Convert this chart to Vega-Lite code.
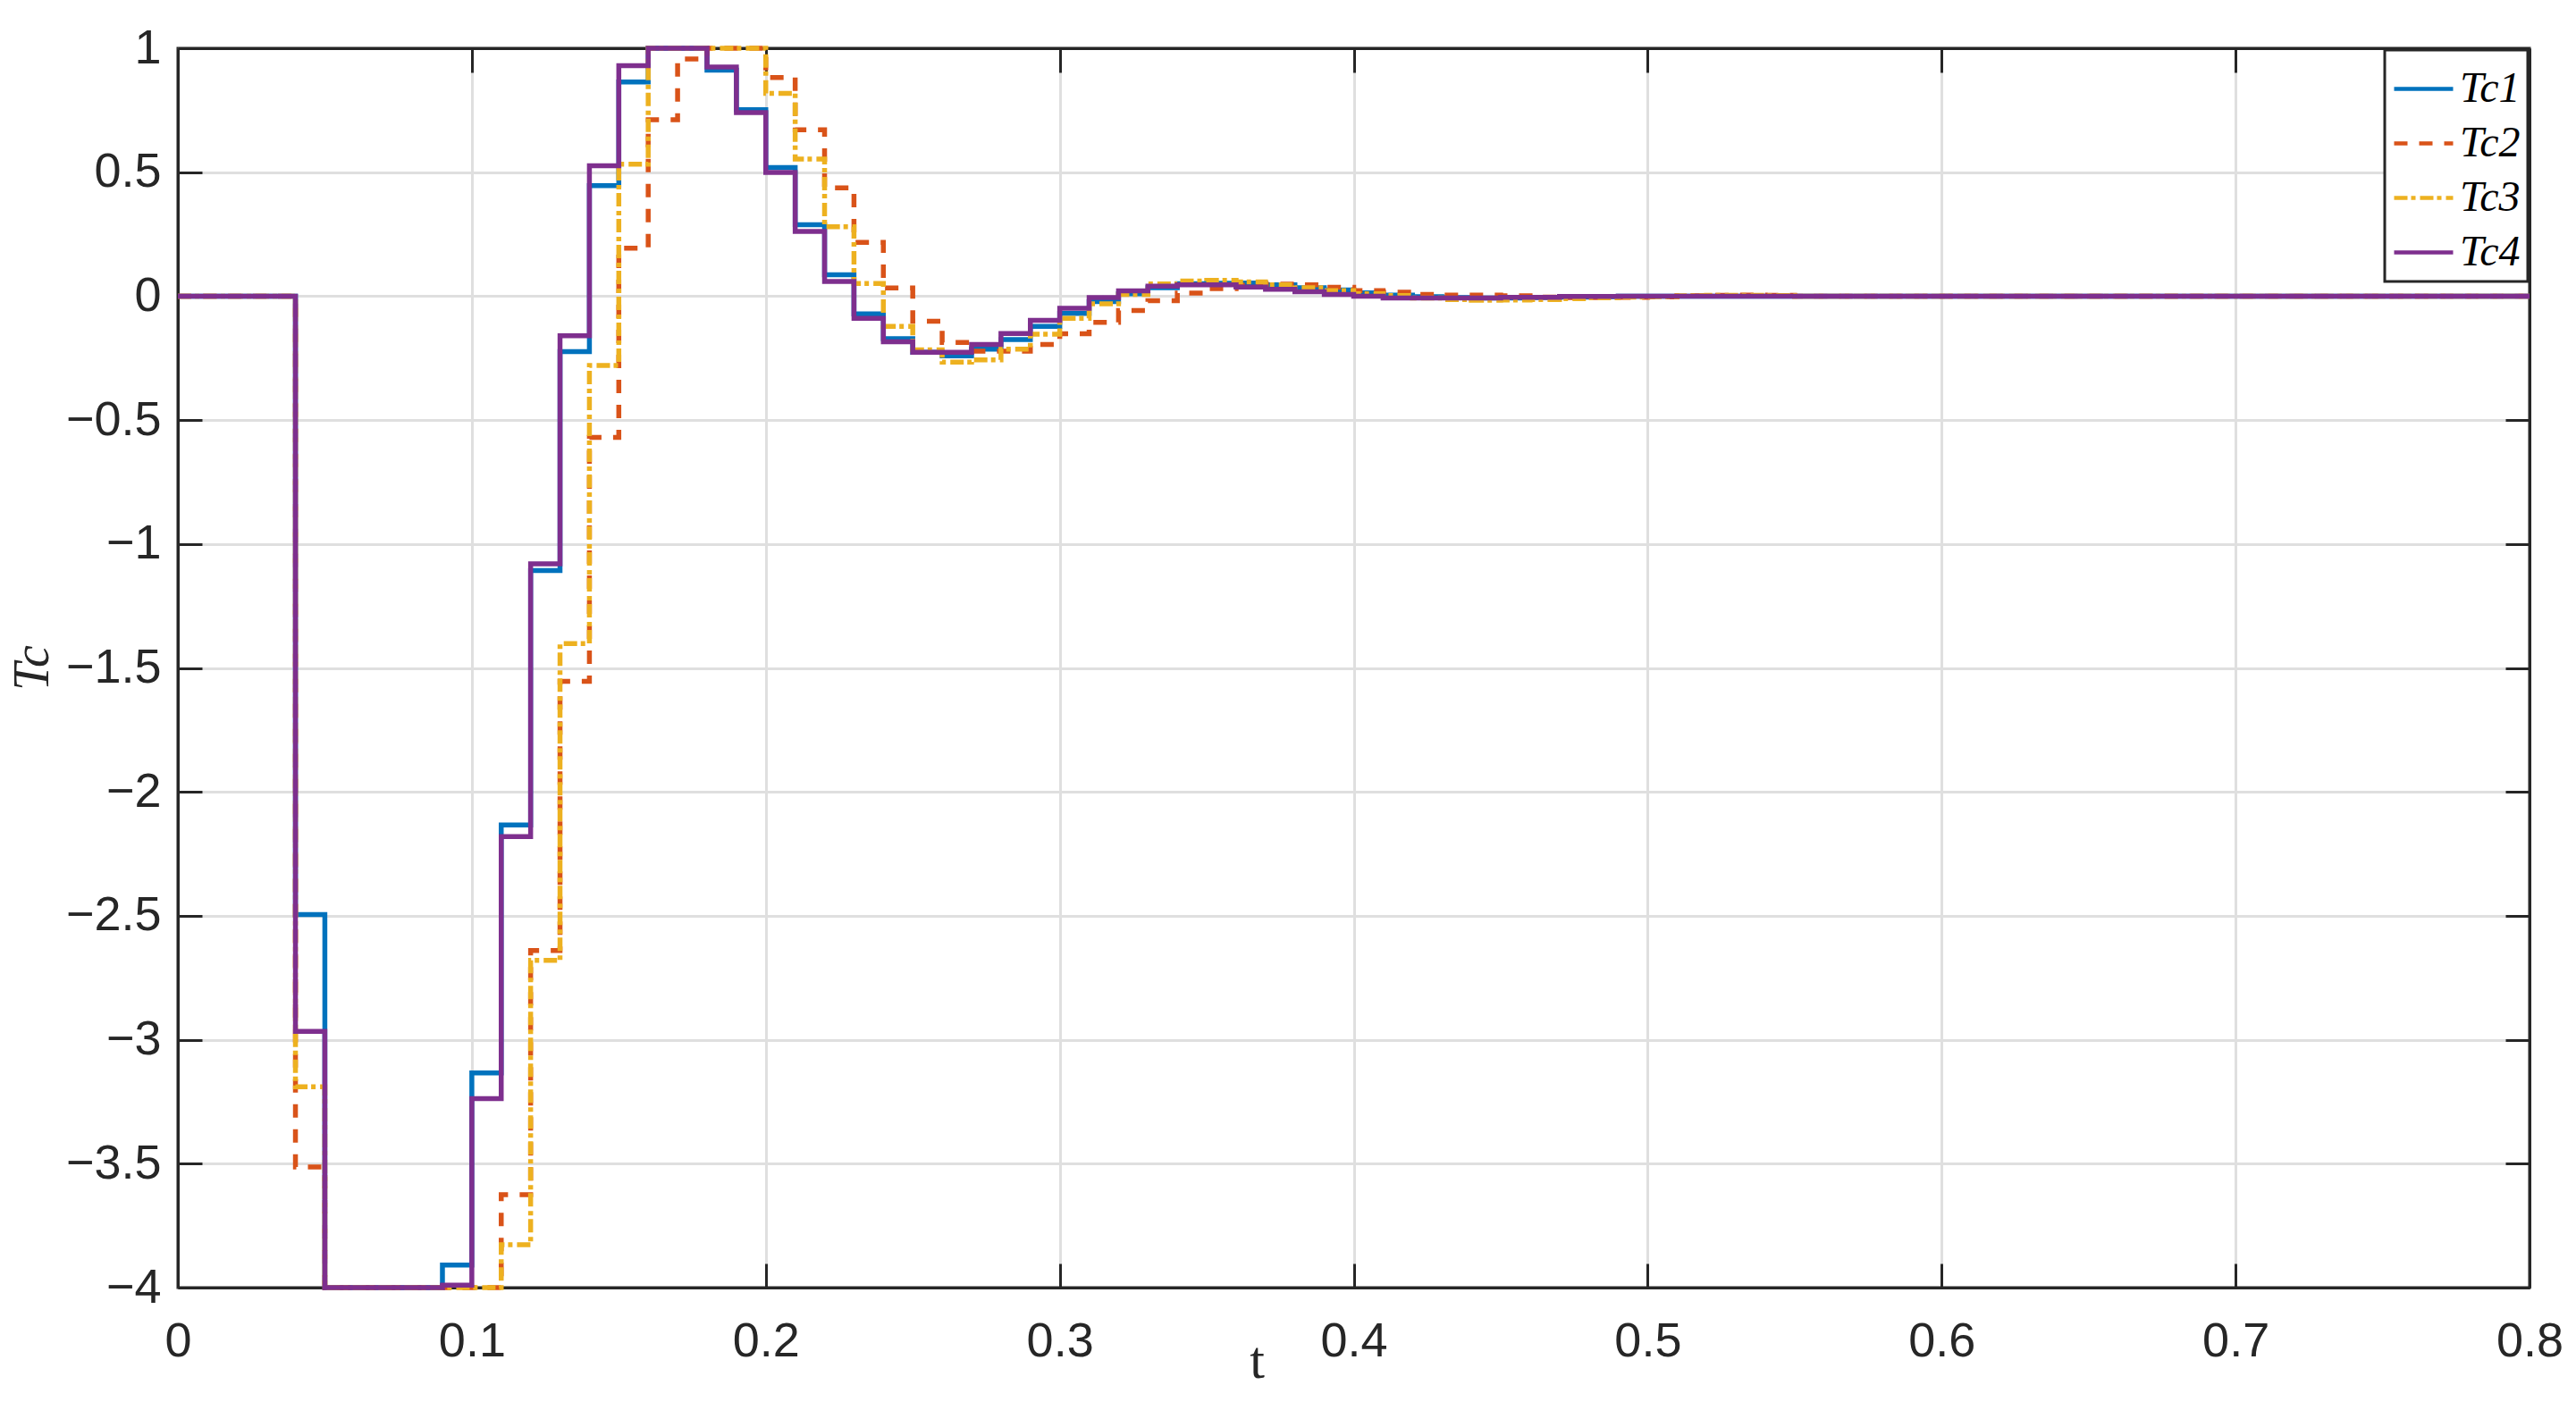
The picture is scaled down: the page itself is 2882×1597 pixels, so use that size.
{
  "$schema": "https://vega.github.io/schema/vega-lite/v6.json",
  "width": 2631,
  "height": 1387,
  "autosize": {"type": "none"},
  "padding": {"left": 199, "top": 54, "right": 52, "bottom": 156},
  "background": "white",
  "config": {
    "view": {"stroke": "#262626", "strokeWidth": 3},
    "axis": {
      "domainColor": "#262626",
      "domainWidth": 3,
      "tickColor": "#262626",
      "tickWidth": 3,
      "tickSize": -27,
      "gridColor": "#DFDFDF",
      "gridWidth": 3,
      "labelFont": "Liberation Sans",
      "labelFontSize": 54,
      "labelColor": "#262626",
      "labelFlush": false,
      "labelOverlap": false,
      "titleColor": "#262626"
    },
    "legend": {
      "orient": "none",
      "legendX": 2469,
      "legendY": 2,
      "strokeColor": "#262626",
      "strokeWidth": 3,
      "fillColor": "white",
      "padding": 8,
      "symbolType": "stroke",
      "symbolSize": 4356,
      "symbolStrokeWidth": 4.5,
      "labelFont": "Liberation Serif",
      "labelFontStyle": "italic",
      "labelFontSize": 48,
      "labelColor": "black",
      "labelOffset": 5,
      "rowPadding": 1
    }
  },
  "data": {
    "values": [
      {"t": 0.00, "Tc1": 0, "Tc2": 0, "Tc3": 0, "Tc4": 0},
      {"t": 0.01, "Tc1": 0, "Tc2": 0, "Tc3": 0, "Tc4": 0},
      {"t": 0.02, "Tc1": 0, "Tc2": 0, "Tc3": 0, "Tc4": 0},
      {"t": 0.03, "Tc1": 0, "Tc2": 0, "Tc3": 0, "Tc4": 0},
      {"t": 0.04, "Tc1": -2.495, "Tc2": -3.513, "Tc3": -3.19, "Tc4": -2.966},
      {"t": 0.05, "Tc1": -4, "Tc2": -4, "Tc3": -4, "Tc4": -4},
      {"t": 0.06, "Tc1": -4, "Tc2": -4, "Tc3": -4, "Tc4": -4},
      {"t": 0.07, "Tc1": -4, "Tc2": -4, "Tc3": -4, "Tc4": -4},
      {"t": 0.08, "Tc1": -4, "Tc2": -4, "Tc3": -4, "Tc4": -4},
      {"t": 0.09, "Tc1": -3.909, "Tc2": -4, "Tc3": -4, "Tc4": -3.99},
      {"t": 0.10, "Tc1": -3.134, "Tc2": -4, "Tc3": -4, "Tc4": -3.238},
      {"t": 0.11, "Tc1": -2.134, "Tc2": -3.625, "Tc3": -3.827, "Tc4": -2.18},
      {"t": 0.12, "Tc1": -1.107, "Tc2": -2.64, "Tc3": -2.68, "Tc4": -1.08},
      {"t": 0.13, "Tc1": -0.224, "Tc2": -1.554, "Tc3": -1.402, "Tc4": -0.16},
      {"t": 0.14, "Tc1": 0.446, "Tc2": -0.57, "Tc3": -0.28, "Tc4": 0.526},
      {"t": 0.15, "Tc1": 0.864, "Tc2": 0.193, "Tc3": 0.532, "Tc4": 0.93},
      {"t": 0.16, "Tc1": 1, "Tc2": 0.712, "Tc3": 1, "Tc4": 1},
      {"t": 0.17, "Tc1": 1, "Tc2": 0.957, "Tc3": 1, "Tc4": 1},
      {"t": 0.18, "Tc1": 0.912, "Tc2": 1, "Tc3": 1, "Tc4": 0.924},
      {"t": 0.19, "Tc1": 0.752, "Tc2": 1, "Tc3": 1, "Tc4": 0.74},
      {"t": 0.20, "Tc1": 0.519, "Tc2": 0.882, "Tc3": 0.818, "Tc4": 0.499},
      {"t": 0.21, "Tc1": 0.288, "Tc2": 0.671, "Tc3": 0.553, "Tc4": 0.261},
      {"t": 0.22, "Tc1": 0.086, "Tc2": 0.437, "Tc3": 0.28, "Tc4": 0.059},
      {"t": 0.23, "Tc1": -0.072, "Tc2": 0.217, "Tc3": 0.051, "Tc4": -0.09},
      {"t": 0.24, "Tc1": -0.172, "Tc2": 0.033, "Tc3": -0.122, "Tc4": -0.184},
      {"t": 0.25, "Tc1": -0.227, "Tc2": -0.101, "Tc3": -0.217, "Tc4": -0.227},
      {"t": 0.26, "Tc1": -0.241, "Tc2": -0.187, "Tc3": -0.266, "Tc4": -0.227},
      {"t": 0.27, "Tc1": -0.214, "Tc2": -0.222, "Tc3": -0.257, "Tc4": -0.195},
      {"t": 0.28, "Tc1": -0.175, "Tc2": -0.222, "Tc3": -0.214, "Tc4": -0.151},
      {"t": 0.29, "Tc1": -0.122, "Tc2": -0.195, "Tc3": -0.154, "Tc4": -0.098},
      {"t": 0.30, "Tc1": -0.07, "Tc2": -0.152, "Tc3": -0.09, "Tc4": -0.049},
      {"t": 0.31, "Tc1": -0.022, "Tc2": -0.106, "Tc3": -0.031, "Tc4": -0.006},
      {"t": 0.32, "Tc1": 0.01, "Tc2": -0.058, "Tc3": 0.007, "Tc4": 0.021},
      {"t": 0.33, "Tc1": 0.034, "Tc2": -0.018, "Tc3": 0.049, "Tc4": 0.04},
      {"t": 0.34, "Tc1": 0.05, "Tc2": 0.012, "Tc3": 0.061, "Tc4": 0.046},
      {"t": 0.35, "Tc1": 0.052, "Tc2": 0.03, "Tc3": 0.064, "Tc4": 0.046},
      {"t": 0.36, "Tc1": 0.053, "Tc2": 0.044, "Tc3": 0.057, "Tc4": 0.037},
      {"t": 0.37, "Tc1": 0.046, "Tc2": 0.048, "Tc3": 0.046, "Tc4": 0.028},
      {"t": 0.38, "Tc1": 0.034, "Tc2": 0.046, "Tc3": 0.034, "Tc4": 0.018},
      {"t": 0.39, "Tc1": 0.025, "Tc2": 0.036, "Tc3": 0.022, "Tc4": 0.007},
      {"t": 0.40, "Tc1": 0.013, "Tc2": 0.022, "Tc3": 0.01, "Tc4": 0},
      {"t": 0.41, "Tc1": 0.004, "Tc2": 0.016, "Tc3": 0.002, "Tc4": -0.008},
      {"t": 0.42, "Tc1": -0.002, "Tc2": 0.007, "Tc3": -0.008, "Tc4": -0.008},
      {"t": 0.43, "Tc1": -0.006, "Tc2": 0.004, "Tc3": -0.014, "Tc4": -0.008},
      {"t": 0.44, "Tc1": -0.008, "Tc2": 0.004, "Tc3": -0.017, "Tc4": -0.008},
      {"t": 0.45, "Tc1": -0.008, "Tc2": 0.001, "Tc3": -0.016, "Tc4": -0.005},
      {"t": 0.46, "Tc1": -0.006, "Tc2": -0.004, "Tc3": -0.014, "Tc4": -0.005},
      {"t": 0.47, "Tc1": -0.004, "Tc2": -0.006, "Tc3": -0.01, "Tc4": -0.001},
      {"t": 0.48, "Tc1": -0.002, "Tc2": -0.006, "Tc3": -0.007, "Tc4": -0.001},
      {"t": 0.49, "Tc1": 0, "Tc2": -0.005, "Tc3": -0.004, "Tc4": 0},
      {"t": 0.50, "Tc1": 0, "Tc2": -0.003, "Tc3": -0.002, "Tc4": 0},
      {"t": 0.51, "Tc1": 0, "Tc2": 0.001, "Tc3": 0.001, "Tc4": 0},
      {"t": 0.52, "Tc1": 0, "Tc2": 0.003, "Tc3": 0.003, "Tc4": 0},
      {"t": 0.53, "Tc1": 0, "Tc2": 0.004, "Tc3": 0.003, "Tc4": 0},
      {"t": 0.54, "Tc1": 0, "Tc2": 0.003, "Tc3": 0.002, "Tc4": 0},
      {"t": 0.55, "Tc1": 0, "Tc2": 0, "Tc3": 0, "Tc4": 0},
      {"t": 0.80, "Tc1": 0, "Tc2": 0, "Tc3": 0, "Tc4": 0}
    ]
  },
  "transform": [{"fold": ["Tc1", "Tc2", "Tc3", "Tc4"], "as": ["series", "value"]}],
  "layer": [
    {
      "mark": {"type": "line", "interpolate": "step-after", "strokeWidth": 5.5, "strokeCap": "butt", "strokeJoin": "miter"},
      "encoding": {
        "x": {
          "field": "t", "type": "quantitative",
          "scale": {"domain": [0, 0.8], "nice": false, "zero": false},
          "axis": {
            "orient": "bottom",
            "values": [0, 0.1, 0.2, 0.3, 0.4, 0.5, 0.6, 0.7, 0.8],
            "format": "~g",
            "labelPadding": 60,
            "grid": true,
            "title": "t",
            "titleFont": "Liberation Serif",
            "titleFontSize": 60,
            "titleFontWeight": "normal",
            "titleColor": "#262626",
            "titleX": 1207,
            "titleY": 100,
            "titleAlign": "center",
            "titleBaseline": "alphabetic"
          }
        },
        "y": {
          "field": "value", "type": "quantitative",
          "scale": {"domain": [-4, 1], "nice": false, "zero": false},
          "axis": {
            "orient": "left",
            "values": [-4, -3.5, -3, -2.5, -2, -1.5, -1, -0.5, 0, 0.5, 1],
            "format": "~g",
            "labelPadding": 46,
            "grid": true,
            "title": "Tc",
            "titleFont": "Liberation Serif",
            "titleFontStyle": "italic",
            "titleFontSize": 56,
            "titleFontWeight": "normal",
            "titleColor": "#262626",
            "titleAngle": -90,
            "titleX": -146,
            "titleY": 693,
            "titleAlign": "center",
            "titleBaseline": "alphabetic"
          }
        },
        "color": {
          "field": "series", "type": "nominal",
          "scale": {"domain": ["Tc1", "Tc2", "Tc3", "Tc4"], "range": ["#0072BD", "#D95319", "#EDB120", "#7E2F8E"]},
          "legend": {"title": null}
        },
        "strokeDash": {
          "field": "series", "type": "nominal",
          "scale": {"domain": ["Tc1", "Tc2", "Tc3", "Tc4"], "range": [[1, 0], [15, 13], [15, 4, 5, 5], [1, 0]]},
          "legend": {"title": null}
        }
      }
    },
    {
      "mark": {"type": "line", "opacity": 0},
      "encoding": {
        "x": {
          "field": "t", "type": "quantitative",
          "scale": {"domain": [0, 0.8], "nice": false, "zero": false},
          "axis": {"orient": "top", "values": [0, 0.1, 0.2, 0.3, 0.4, 0.5, 0.6, 0.7, 0.8], "labels": false, "grid": false, "title": null}
        },
        "y": {
          "field": "value", "type": "quantitative",
          "scale": {"domain": [-4, 1], "nice": false, "zero": false},
          "axis": {"orient": "right", "values": [-4, -3.5, -3, -2.5, -2, -1.5, -1, -0.5, 0, 0.5, 1], "labels": false, "grid": false, "title": null}
        },
        "detail": {"field": "series", "type": "nominal"}
      }
    }
  ],
  "resolve": {"scale": {"x": "independent", "y": "independent"}, "axis": {"x": "independent", "y": "independent"}}
}
